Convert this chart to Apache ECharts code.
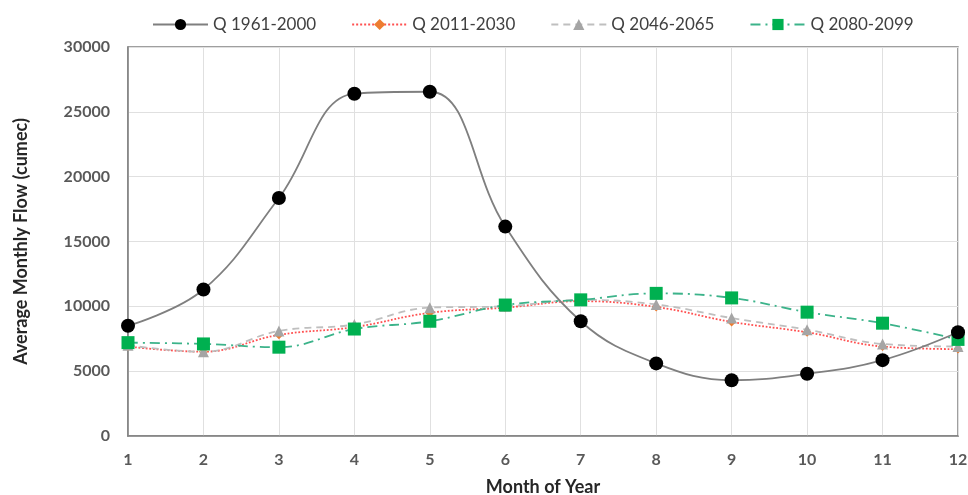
<!DOCTYPE html>
<html><head><meta charset="utf-8">
<script src="https://cdn.jsdelivr.net/npm/echarts@6/dist/echarts.min.js"></script>
<style>html,body{margin:0;padding:0;background:#fff}#c{width:968px;height:495px}</style>
</head><body><div id="c"></div>
<script>
const months = [1,2,3,4,5,6,7,8,9,10,11,12];
const seriesNames = ['Q 1961-2000','Q 2011-2030','Q 2046-2065','Q 2080-2099'];
const q1961 = [8500,11300,18350,26400,26550,16150,8850,5600,4300,4800,5850,8000];
const q2011 = [6900,6500,7800,8400,9500,9900,10400,9950,8800,8000,6900,6700];
const q2046 = [7000,6500,8100,8600,9900,10000,10500,10150,9100,8200,7100,6900];
const q2080 = [7200,7100,6850,8250,8850,10100,10500,11000,10650,9550,8700,7450];
const yTicks = [0,5000,10000,15000,20000,25000,30000];

const font = 'Lato, "Open Sans", sans-serif';
const pair = arr => months.map((m,i)=>[m,arr[i]]);
const chart = echarts.init(document.getElementById('c'));
chart.setOption({
  animation:false,
  textStyle:{fontFamily:font},
  legend:{
    top:11, left:147, itemWidth:55, itemHeight:14, itemGap:35,
    textStyle:{fontSize:17,color:'#404040',fontFamily:font},
    data:seriesNames
  },
  grid:{left:128,right:10,top:47,bottom:59,outerBoundsMode:'none',containLabel:false,
        show:true,borderColor:'#808080',borderWidth:1.5},
  xAxis:{
    type:'value',min:1,max:12,interval:1,
    name:'Month of Year',nameLocation:'middle',nameGap:42,
    nameTextStyle:{fontSize:18,fontWeight:'bold',color:'#262626',fontFamily:font},
    axisLine:{lineStyle:{color:'#808080',width:1.5}},
    axisTick:{show:false},
    axisLabel:{fontSize:16,fontWeight:'bold',color:'#595959',margin:16},
    splitLine:{show:true,lineStyle:{color:'#e0e0e0',width:1}}
  },
  yAxis:{
    type:'value',min:yTicks[0],max:yTicks[yTicks.length-1],interval:5000,
    name:'Average Monthly Flow (cumec)',nameLocation:'middle',nameGap:98,
    nameTextStyle:{fontSize:18,fontWeight:'bold',color:'#262626',fontFamily:font},
    axisLine:{show:true,lineStyle:{color:'#808080',width:1.5}},
    axisTick:{show:false},
    axisLabel:{fontSize:16,fontWeight:'bold',color:'#595959',margin:18,formatter:v=>String(v)},
    splitLine:{show:true,lineStyle:{color:'#e0e0e0',width:1}}
  },
  series:[
    {name:seriesNames[0],type:'line',smooth:0.4,data:pair(q1961),symbol:'circle',symbolSize:14,
     itemStyle:{color:'#000'},lineStyle:{color:'#7f7f7f',width:1.8},z:5},
    {name:seriesNames[1],type:'line',smooth:0.4,data:pair(q2011),symbol:'diamond',symbolSize:9,
     itemStyle:{color:'#ED7D31'},lineStyle:{color:'#ff5050',width:1.8,type:'dotted'},z:2},
    {name:seriesNames[2],type:'line',smooth:0.4,data:pair(q2046),symbol:'triangle',symbolSize:11,
     itemStyle:{color:'#a5a5a5'},lineStyle:{color:'#bfbfbf',width:1.8,type:[7,5]},z:3},
    {name:seriesNames[3],type:'line',smooth:0.4,data:pair(q2080),symbol:'rect',symbolSize:13,
     itemStyle:{color:'#00b050'},lineStyle:{color:'#3cb38a',width:1.8,type:[10,5,2,5]},z:4}
  ]
});
</script></body></html>
